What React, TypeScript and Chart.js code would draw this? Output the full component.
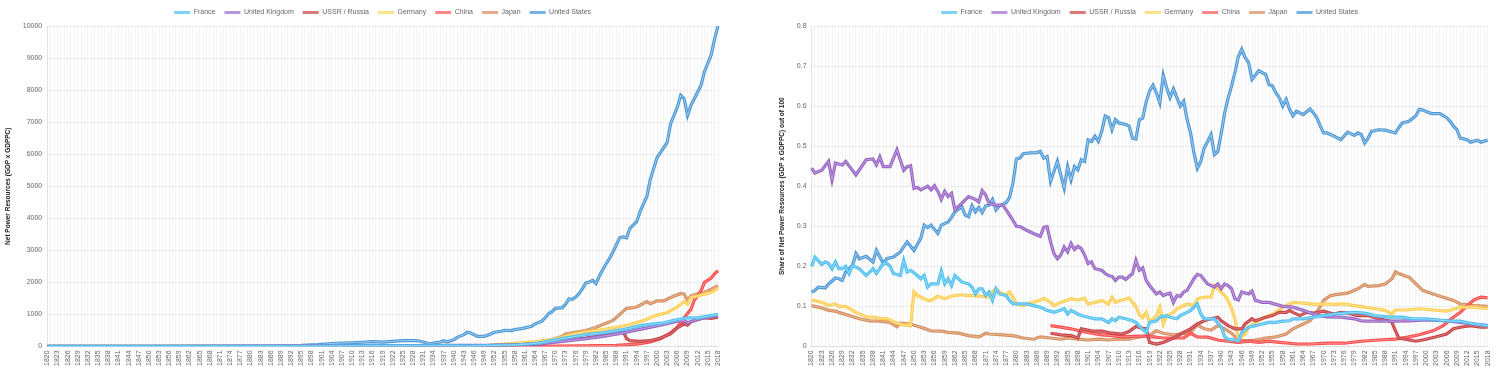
import React, { useEffect, useRef } from "react";
import { Chart, registerables } from "chart.js";

Chart.register(...registerables);

// ---------- categories ----------
const years: string[] = [];
for (let y = 1820; y <= 2018; y++) years.push(String(y));

const seriesNames = ["France", "United Kingdom", "USSR / Russia", "Germany", "China", "Japan", "United States"];

// ---------- left chart: Net Power Resources (GDP x GDPPC) ----------
const franceNpr: [number, number][] = [
  [1820, 1], [1850, 3], [1880, 6], [1900, 10], [1913, 15], [1929, 20], [1938, 22], [1944, 8], [1950, 25],
  [1959, 53], [1965, 105], [1972, 242], [1979, 368], [1984, 421], [1990, 526], [1996, 663], [2002, 736],
  [2006, 842], [2009, 894], [2012, 894], [2015, 947], [2018, 1000],
];
const ukNpr: [number, number][] = [
  [1820, 2], [1850, 6], [1880, 12], [1900, 18], [1913, 22], [1929, 25], [1938, 30], [1944, 35], [1950, 30],
  [1959, 53], [1965, 74], [1972, 158], [1979, 242], [1984, 315], [1990, 421], [1996, 557], [2002, 684],
  [2006, 789], [2008, 810], [2009, 736], [2012, 842], [2015, 915], [2018, 970],
];
const russiaNpr: [number, number][] = [
  [1890, 3], [1913, 8], [1921, 2], [1938, 25], [1945, 20], [1950, 25], [1959, 53], [1965, 95], [1972, 179],
  [1979, 263], [1984, 347], [1988, 421], [1990, 473], [1991, 242], [1992, 179], [1995, 158], [1998, 179],
  [2001, 263], [2004, 389], [2006, 579], [2008, 705], [2009, 663], [2010, 768], [2012, 842], [2014, 894],
  [2016, 873], [2018, 915],
];
const germanyNpr: [number, number][] = [
  [1820, 0.5], [1850, 2], [1880, 6], [1900, 12], [1913, 18], [1923, 12], [1938, 35], [1945, 4], [1950, 30],
  [1955, 70], [1959, 105], [1965, 158], [1969, 210], [1973, 315], [1975, 368], [1979, 452], [1982, 494],
  [1984, 526], [1988, 600], [1992, 684], [1996, 810], [2000, 978], [2003, 1052], [2006, 1231], [2008, 1399],
  [2009, 1315], [2010, 1525], [2012, 1578], [2014, 1631], [2016, 1683], [2018, 1820],
];
const chinaNpr: [number, number][] = [
  [1890, 4], [1913, 5], [1940, 4], [1950, 3], [1962, 5], [1978, 20], [1988, 32], [1994, 74], [1998, 137],
  [2001, 242], [2004, 421], [2006, 600], [2008, 894], [2010, 1157], [2011, 1441], [2013, 1736], [2014, 1999],
  [2016, 2136], [2017, 2262], [2018, 2367],
];
const japanNpr: [number, number][] = [
  [1820, 0.5], [1880, 1], [1913, 4], [1938, 12], [1945, 3], [1950, 10], [1955, 30], [1959, 74], [1965, 137],
  [1969, 210], [1972, 315], [1973, 389], [1975, 421], [1979, 494], [1982, 600], [1984, 684], [1987, 810],
  [1989, 1000], [1991, 1189], [1993, 1210], [1994, 1231], [1997, 1399], [1998, 1336], [2000, 1420],
  [2002, 1420], [2004, 1525], [2007, 1652], [2008, 1631], [2009, 1441], [2010, 1578], [2012, 1631],
  [2014, 1683], [2016, 1788], [2018, 1894],
];
const usNpr: [number, number][] = [
  [1820, 0.3], [1850, 2], [1880, 10], [1890, 20], [1895, 30], [1900, 55], [1905, 100], [1910, 115],
  [1913, 130], [1916, 150], [1919, 137], [1922, 158], [1925, 180], [1929, 185], [1931, 137], [1933, 74],
  [1934, 105], [1936, 137], [1937, 180], [1938, 137], [1940, 210], [1941, 284], [1943, 368], [1944, 442],
  [1945, 420], [1947, 315], [1949, 315], [1950, 347], [1952, 442], [1954, 473], [1955, 505], [1957, 494],
  [1958, 526], [1960, 557], [1961, 578], [1963, 631], [1964, 705], [1966, 789], [1967, 894], [1968, 1020],
  [1969, 1084], [1970, 1189], [1972, 1210], [1973, 1315], [1974, 1480], [1975, 1470], [1976, 1540],
  [1977, 1650], [1978, 1800], [1979, 1980], [1980, 2010], [1981, 2060], [1982, 1960], [1983, 2200],
  [1984, 2400], [1985, 2580], [1986, 2750], [1987, 2946], [1989, 3398], [1990, 3420], [1991, 3390],
  [1992, 3682], [1994, 3892], [1995, 4208], [1997, 4681], [1998, 5207], [2000, 5891], [2001, 6049],
  [2003, 6365], [2004, 6943], [2006, 7469], [2007, 7838], [2008, 7732], [2009, 7206], [2010, 7522],
  [2011, 7732], [2013, 8153], [2014, 8574], [2016, 9100], [2017, 9600], [2018, 10000],
];

// ---------- right chart: share of Net Power Resources ----------
const franceShare: [number, number][] = [
  [1820, .20], [1821, .223], [1823, .205], [1824, .211], [1825, .207], [1826, .194], [1827, .211], [1828, .194],
  [1829, .194], [1830, .20], [1831, .182], [1832, .202], [1834, .194], [1836, .177], [1838, .194], [1839, .182],
  [1841, .207], [1842, .208], [1843, .20], [1844, .182], [1846, .177], [1847, .215], [1848, .186], [1849, .19],
  [1851, .177], [1852, .169], [1853, .177], [1854, .148], [1855, .156], [1857, .156], [1858, .188], [1859, .156],
  [1860, .169], [1861, .152], [1862, .177], [1864, .161], [1866, .156], [1867, .148], [1868, .131], [1869, .144],
  [1870, .144], [1871, .127], [1872, .136], [1873, .115], [1874, .144], [1875, .131], [1877, .127], [1878, .115],
  [1879, .106], [1881, .106], [1883, .106], [1885, .102], [1887, .098], [1889, .09], [1891, .085], [1892, .088],
  [1894, .094], [1895, .081], [1896, .09], [1898, .081], [1899, .077], [1901, .073], [1903, .069], [1905, .069],
  [1907, .06], [1908, .069], [1909, .064], [1910, .073], [1912, .069], [1914, .064], [1915, .06], [1917, .042],
  [1918, .035], [1919, .06], [1921, .064], [1922, .073], [1924, .077], [1925, .073], [1927, .069], [1928, .077],
  [1930, .085], [1931, .09], [1933, .106], [1934, .081], [1935, .069], [1937, .069], [1938, .069], [1940, .048],
  [1941, .024], [1942, .018], [1944, .016], [1945, .014], [1946, .035], [1948, .048], [1950, .052], [1952, .056],
  [1954, .06], [1956, .06], [1958, .063], [1960, .064], [1961, .069], [1964, .069], [1967, .073], [1970, .077],
  [1973, .081], [1976, .083], [1979, .085], [1982, .083], [1985, .077], [1989, .073], [1993, .073], [1996, .069],
  [2000, .069], [2006, .064], [2010, .063], [2014, .056], [2018, .052],
];
const ukShare: [number, number][] = [
  [1820, .445], [1821, .433], [1823, .44], [1825, .462], [1826, .416], [1827, .458], [1829, .453], [1830, .462],
  [1833, .428], [1836, .466], [1838, .468], [1839, .453], [1840, .473], [1841, .449], [1843, .449], [1845, .491],
  [1847, .44], [1848, .449], [1849, .451], [1850, .395], [1851, .397], [1852, .391], [1854, .40], [1855, .391],
  [1856, .401], [1857, .387], [1858, .367], [1859, .387], [1860, .374], [1861, .382], [1862, .341], [1863, .349],
  [1866, .374], [1868, .367], [1869, .361], [1870, .389], [1871, .378], [1872, .357], [1874, .353], [1876, .353],
  [1877, .341], [1879, .315], [1880, .30], [1881, .299], [1883, .29], [1885, .282], [1887, .275], [1888, .297],
  [1889, .299], [1890, .261], [1891, .232], [1892, .219], [1893, .228], [1894, .248], [1895, .236], [1896, .257],
  [1897, .242], [1898, .25], [1899, .244], [1900, .228], [1901, .207], [1902, .211], [1903, .194], [1904, .192],
  [1905, .19], [1906, .182], [1907, .177], [1908, .175], [1909, .165], [1910, .173], [1911, .173], [1912, .167],
  [1914, .182], [1915, .215], [1916, .19], [1917, .196], [1918, .165], [1919, .152], [1921, .131], [1922, .136],
  [1923, .127], [1924, .131], [1925, .133], [1926, .11], [1927, .127], [1928, .125], [1929, .136], [1930, .14],
  [1932, .169], [1933, .18], [1934, .177], [1936, .156], [1938, .148], [1939, .156], [1940, .144], [1941, .156],
  [1942, .152], [1943, .144], [1944, .119], [1945, .116], [1946, .136], [1948, .131], [1949, .138], [1950, .115],
  [1952, .11], [1954, .11], [1956, .105], [1958, .10], [1961, .098], [1964, .09], [1967, .081], [1969, .077],
  [1971, .074], [1975, .073], [1979, .069], [1981, .064], [1983, .063], [1987, .063], [1991, .063], [1995, .064],
  [2000, .066], [2006, .064], [2010, .06], [2014, .056], [2018, .052],
];
const russiaShare: [number, number][] = [
  [1890, .033], [1893, .029], [1896, .027], [1898, .021], [1899, .044], [1902, .039], [1905, .038], [1908, .033],
  [1911, .031], [1913, .037], [1915, .05], [1917, .045], [1918, .044], [1919, .01], [1921, .006], [1923, .01],
  [1926, .021], [1928, .031], [1931, .044], [1933, .056], [1935, .064], [1937, .069], [1939, .073], [1940, .064],
  [1942, .052], [1944, .044], [1946, .044], [1947, .056], [1949, .069], [1950, .064], [1953, .073], [1955, .077],
  [1957, .085], [1959, .085], [1960, .09], [1961, .085], [1963, .077], [1965, .085], [1967, .083], [1970, .088],
  [1971, .085], [1973, .081], [1975, .085], [1977, .083], [1980, .077], [1983, .077], [1986, .069], [1989, .064],
  [1990, .06], [1991, .039], [1992, .021], [1995, .016], [1997, .013], [2000, .018], [2003, .024], [2006, .031],
  [2008, .044], [2010, .048], [2013, .052], [2016, .048], [2018, .048],
];
const germanyShare: [number, number][] = [
  [1820, .116], [1823, .11], [1825, .102], [1827, .106], [1828, .10], [1830, .10], [1833, .085], [1836, .074],
  [1838, .073], [1841, .069], [1842, .07], [1845, .058], [1847, .054], [1849, .052], [1850, .136], [1851, .127],
  [1854, .115], [1855, .115], [1857, .125], [1859, .119], [1860, .123], [1862, .127], [1864, .129], [1866, .127],
  [1868, .127], [1870, .125], [1872, .123], [1873, .136], [1874, .144], [1875, .136], [1877, .127], [1878, .136],
  [1879, .123], [1880, .106], [1882, .102], [1883, .106], [1885, .11], [1887, .116], [1888, .12], [1890, .11],
  [1891, .102], [1893, .11], [1895, .116], [1896, .119], [1898, .116], [1900, .12], [1901, .106], [1903, .11],
  [1905, .115], [1907, .106], [1908, .123], [1909, .11], [1911, .116], [1913, .121], [1915, .10], [1916, .079],
  [1917, .072], [1918, .085], [1919, .06], [1921, .077], [1922, .098], [1923, .056], [1924, .077], [1926, .085],
  [1927, .094], [1929, .102], [1930, .106], [1932, .102], [1933, .119], [1935, .123], [1937, .123], [1938, .152],
  [1939, .144], [1941, .127], [1942, .115], [1943, .094], [1944, .069], [1945, .018], [1947, .031], [1948, .048],
  [1950, .06], [1952, .069], [1954, .077], [1956, .085], [1958, .098], [1960, .106], [1961, .11], [1964, .108],
  [1967, .105], [1970, .106], [1973, .105], [1976, .106], [1979, .102], [1982, .098], [1985, .094], [1988, .09],
  [1990, .081], [1991, .091], [1994, .091], [1998, .094], [2002, .091], [2006, .088], [2010, .098], [2014, .098],
  [2018, .094],
];
const chinaShare: [number, number][] = [
  [1890, .052], [1893, .048], [1896, .044], [1899, .038], [1902, .033], [1905, .029], [1908, .027], [1911, .024],
  [1914, .025], [1917, .026], [1920, .024], [1923, .021], [1926, .021], [1929, .021], [1931, .033], [1933, .024],
  [1936, .023], [1939, .016], [1942, .013], [1945, .01], [1948, .013], [1951, .01], [1954, .013], [1957, .01],
  [1960, .008], [1962, .006], [1966, .006], [1971, .008], [1976, .008], [1981, .013], [1986, .016], [1991, .018],
  [1995, .024], [1998, .029], [2002, .039], [2005, .052], [2008, .073], [2010, .085], [2012, .102], [2014, .116],
  [2016, .123], [2018, .121],
];
const japanShare: [number, number][] = [
  [1820, .102], [1823, .096], [1825, .09], [1827, .088], [1828, .085], [1831, .077], [1834, .069], [1837, .064],
  [1840, .063], [1843, .06], [1845, .049], [1846, .058], [1849, .056], [1852, .048], [1855, .039], [1858, .038],
  [1860, .035], [1863, .033], [1866, .027], [1869, .024], [1871, .033], [1872, .031], [1876, .029], [1879, .027],
  [1882, .021], [1885, .018], [1887, .024], [1890, .021], [1893, .018], [1895, .021], [1898, .018], [1901, .016],
  [1904, .018], [1907, .016], [1910, .018], [1913, .018], [1916, .024], [1919, .027], [1921, .039], [1923, .033],
  [1926, .029], [1928, .031], [1931, .035], [1933, .054], [1935, .044], [1937, .041], [1939, .052], [1941, .044],
  [1943, .033], [1945, .016], [1947, .014], [1950, .016], [1953, .021], [1956, .024], [1959, .031], [1961, .044],
  [1964, .056], [1966, .064], [1968, .085], [1970, .115], [1972, .127], [1974, .13], [1977, .133], [1980, .144],
  [1982, .155], [1983, .15], [1986, .152], [1988, .156], [1990, .169], [1991, .186], [1992, .182], [1994, .175],
  [1995, .173], [1997, .156], [1999, .14], [2002, .131], [2005, .123], [2008, .115], [2010, .106], [2014, .102],
  [2018, .10],
];
const usShare: [number, number][] = [
  [1820, .136], [1821, .14], [1822, .148], [1824, .146], [1825, .156], [1827, .171], [1828, .169], [1829, .165],
  [1830, .186], [1832, .202], [1833, .232], [1834, .219], [1836, .225], [1838, .211], [1839, .24], [1841, .207],
  [1842, .219], [1844, .223], [1846, .236], [1848, .261], [1850, .24], [1852, .27], [1853, .303], [1854, .297],
  [1855, .303], [1857, .282], [1858, .303], [1860, .311], [1861, .322], [1862, .336], [1864, .349], [1865, .328],
  [1866, .324], [1867, .351], [1868, .336], [1869, .347], [1870, .334], [1871, .351], [1872, .353], [1873, .367],
  [1874, .341], [1875, .351], [1877, .359], [1878, .372], [1879, .408], [1880, .468], [1881, .47], [1882, .481],
  [1884, .483], [1886, .484], [1887, .487], [1888, .47], [1889, .474], [1890, .412], [1891, .437], [1892, .462],
  [1893, .428], [1894, .395], [1895, .449], [1896, .416], [1897, .449], [1898, .441], [1899, .466], [1900, .462],
  [1901, .516], [1902, .512], [1903, .525], [1904, .512], [1905, .537], [1906, .575], [1907, .571], [1908, .541],
  [1909, .566], [1910, .558], [1912, .554], [1913, .55], [1914, .52], [1915, .518], [1916, .566], [1917, .57],
  [1918, .61], [1919, .638], [1920, .652], [1921, .633], [1922, .608], [1923, .677], [1924, .646], [1925, .621],
  [1926, .643], [1927, .621], [1928, .60], [1929, .612], [1930, .566], [1931, .533], [1932, .483], [1933, .445],
  [1934, .462], [1935, .495], [1936, .512], [1937, .529], [1938, .479], [1939, .487], [1940, .533], [1941, .583],
  [1942, .62], [1943, .65], [1944, .684], [1945, .724], [1946, .742], [1947, .721], [1948, .709], [1949, .667],
  [1951, .688], [1953, .679], [1954, .654], [1955, .65], [1956, .633], [1957, .621], [1958, .60], [1959, .617],
  [1960, .592], [1961, .576], [1962, .587], [1964, .579], [1966, .593], [1967, .583], [1968, .571], [1969, .55],
  [1970, .533], [1971, .533], [1973, .525], [1975, .516], [1977, .535], [1979, .527], [1980, .533], [1981, .529],
  [1982, .508], [1983, .52], [1984, .537], [1986, .541], [1988, .54], [1991, .533], [1992, .546], [1993, .558],
  [1995, .562], [1997, .576], [1998, .592], [1999, .59], [2001, .583], [2002, .581], [2004, .581], [2006, .571],
  [2007, .562], [2008, .55], [2009, .541], [2010, .52], [2012, .516], [2013, .51], [2015, .515], [2016, .51],
  [2018, .515],
];

// ---------- styling ----------
const lineColors = [
  "rgb(78,190,240)", "rgb(150,100,195)", "rgb(195,65,70)", "rgb(255,205,80)",
  "rgb(250,75,75)", "rgb(210,140,95)", "rgb(75,150,212)",
];
const innerColors = [
  "rgb(150,220,250)", "rgb(195,160,225)", "rgb(225,120,120)", "rgb(255,228,150)",
  "rgb(255,140,140)", "rgb(235,185,150)", "rgb(160,205,240)",
];
const legendColors = [
  "rgb(125,212,245)", "rgb(185,150,215)", "rgb(220,120,120)", "rgb(255,225,140)",
  "rgb(255,135,135)", "rgb(228,172,138)", "rgb(118,178,228)",
];

const FONT = "'Liberation Sans', Arial, sans-serif";

const innerLinePlugin = {
  id: "innerLine",
  afterDatasetDraw(chart: any, args: any) {
    const ds = chart.data.datasets[args.index];
    if (!ds || !ds.innerColor) return;
    const pts = args.meta.data;
    if (!pts || pts.length < 2) return;
    const ctx = chart.ctx;
    const a = chart.chartArea;
    ctx.save();
    ctx.beginPath();
    ctx.rect(a.left, a.top - 2, a.right - a.left, a.bottom - a.top + 4);
    ctx.clip();
    ctx.beginPath();
    pts.forEach((p: any, i: number) => (i === 0 ? ctx.moveTo(p.x, p.y) : ctx.lineTo(p.x, p.y)));
    ctx.strokeStyle = ds.innerColor;
    ctx.lineWidth = 1;
    ctx.lineJoin = "round";
    ctx.stroke();
    ctx.restore();
  },
};

function toPoints(arr: [number, number][]) {
  return arr.map(([yr, v]) => ({ x: String(yr), y: v }));
}

function buildConfig(
  series: [number, number][][], yMax: number, yStep: number, yTitle: string, padRight: number,
  tickFmt: (v: number) => string
): any {
  return {
    type: "line",
    data: {
      labels: years,
      datasets: series.map((s, i) => ({
        label: seriesNames[i],
        data: toPoints(s),
        borderColor: lineColors[i],
        backgroundColor: legendColors[i],
        innerColor: innerColors[i],
        borderWidth: 3.2,
        pointRadius: 0,
        pointHoverRadius: 0,
        tension: 0,
        fill: false,
      })),
    },
    options: {
      animation: false,
      responsive: true,
      maintainAspectRatio: false,
      layout: { padding: { right: padRight, top: 0, left: 0, bottom: 0 } },
      plugins: {
        tooltip: { enabled: false },
        legend: {
          position: "top",
          fullSize: false,
          labels: {
            boxWidth: 16,
            boxHeight: 3,
            padding: 9,
            color: "#666",
            font: { family: FONT, size: 7 },
            generateLabels: (chart: any) =>
              chart.data.datasets.map((d: any, i: number) => ({
                text: d.label,
                fillStyle: legendColors[i],
                strokeStyle: legendColors[i],
                lineWidth: 0,
                hidden: false,
                datasetIndex: i,
                fontColor: "#666",
              })),
          },
        },
      },
      scales: {
        x: {
          type: "category",
          grid: { color: "rgba(0,0,0,0.045)", drawTicks: false },
          border: { color: "rgba(0,0,0,0.08)" },
          ticks: {
            autoSkip: false,
            maxRotation: 90,
            minRotation: 90,
            padding: 4,
            color: "#666",
            font: { family: FONT, size: 7 },
            callback: (_v: any, idx: number) => (idx % 3 === 0 ? years[idx] : ""),
          },
        },
        y: {
          min: 0,
          max: yMax,
          grid: { color: "rgba(0,0,0,0.06)", drawTicks: false },
          border: { color: "rgba(0,0,0,0.08)" },
          ticks: {
            stepSize: yStep,
            padding: 5,
            color: "#666",
            font: { family: FONT, size: 7 },
            callback: (v: any) => tickFmt(Number(v)),
          },
          title: {
            display: true,
            text: yTitle,
            color: "#222",
            font: { family: FONT, size: 6.5, weight: "bold" },
            padding: { top: 4, bottom: 6 },
          },
        },
      },
    },
  };
}

function ChartBox(props: { config: any; style: React.CSSProperties }) {
  const ref = useRef<HTMLCanvasElement | null>(null);
  useEffect(() => {
    if (!ref.current) return;
    const chart = new Chart(ref.current, { ...props.config, plugins: [innerLinePlugin] });
    return () => chart.destroy();
  }, []);
  return (
    <div style={{ position: "absolute", ...props.style }}>
      <canvas ref={ref} />
    </div>
  );
}

export default function App() {
  const leftConfig = buildConfig(
    [franceNpr, ukNpr, russiaNpr, germanyNpr, chinaNpr, japanNpr, usNpr],
    10000, 1000, "Net Power Resources (GDP x GDPPC)", 24,
    (v) => String(Math.round(v))
  );
  const rightConfig = buildConfig(
    [franceShare, ukShare, russiaShare, germanyShare, chinaShare, japanShare, usShare],
    0.8, 0.1, "Share of Net Power Resources (GDP x GDPPC) out of 100", 4,
    (v) => String(Math.round(v * 10) / 10)
  );
  return (
    <div style={{ position: "fixed", left: 0, top: 0, width: 1500, height: 370, background: "#fff" }}>
      <ChartBox config={leftConfig} style={{ left: 0, top: 0, width: 742, height: 370 }} />
      <ChartBox config={rightConfig} style={{ left: 774, top: 0, width: 726, height: 370 }} />
    </div>
  );
}
